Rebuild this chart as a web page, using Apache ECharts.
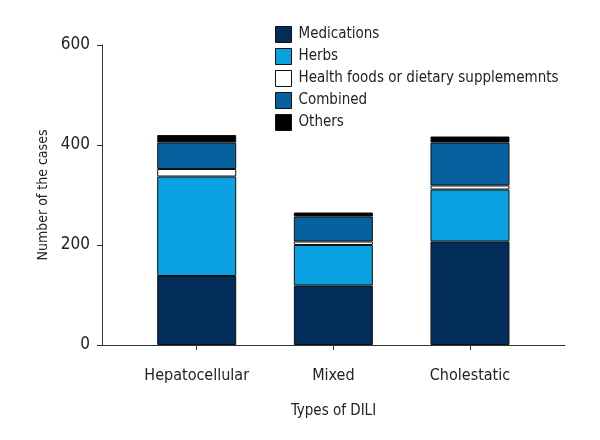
<!DOCTYPE html>
<html><head><meta charset="utf-8">
<script src="https://cdn.jsdelivr.net/npm/echarts@6/dist/echarts.min.js"></script>
<style>html,body{margin:0;padding:0;background:#fff}#c{width:600px;height:440px}</style>
</head><body><div id="c"></div>
<script>
const categories = ['Hepatocellular', 'Mixed', 'Cholestatic'];
const seriesNames = ['Medications', 'Herbs', 'Health foods or dietary supplememnts', 'Combined', 'Others'];
const medications = [138, 119, 207];
const herbs = [199, 81, 104];
const healthFoods = [15, 7, 8];
const combined = [53, 50, 86];
const others = [15, 8, 12];
const yTicks = [0, 200, 400, 600];

const colors = ['#022d5b', '#0aa1e2', '#ffffff', '#06619f', '#000000'];
const values = [medications, herbs, healthFoods, combined, others];
const FONT = '"Liberation Sans Narrow", "DejaVu Sans Condensed", sans-serif';
const TXT = '#222';

const chart = echarts.init(document.getElementById('c'), null, {renderer: 'canvas'});
chart.setOption({
  animation: false,
  backgroundColor: '#fff',
  textStyle: {fontFamily: FONT},
  legend: {
    orient: 'vertical', left: 270, top: 21,
    itemWidth: 16, itemHeight: 16, itemGap: 5,
    icon: 'rect',
    textStyle: {fontFamily: FONT, fontSize: 15, color: TXT, padding: [2, 0, 0, 2]},
    data: seriesNames.map((n) => ({name: n, itemStyle: {borderColor: '#111', borderWidth: 1}}))
  },
  grid: [
    {left: 102, right: 35, top: 45, bottom: 95},
    {left: 128.4, right: 61.7, top: 45, bottom: 95}
  ],
  xAxis: [
    {type: 'value', gridIndex: 0, min: 0, max: 1, axisLine: {show: true, lineStyle: {color: '#333', width: 1}},
     axisTick: {show: false}, axisLabel: {show: false}, splitLine: {show: false},
     name: 'Types of DILI', nameLocation: 'middle', nameGap: 59,
     nameTextStyle: {fontFamily: FONT, fontSize: 15, color: TXT}},
    {type: 'category', gridIndex: 1, data: categories,
     axisLine: {show: false},
     axisTick: {show: true, alignWithLabel: true, length: 5, lineStyle: {color: '#333'}},
     axisLabel: {fontFamily: FONT, fontSize: 16, color: TXT, margin: 23}}
  ],
  yAxis: [
    {type: 'value', gridIndex: 0, min: 0, max: 600, interval: 200,
     axisLine: {show: true, lineStyle: {color: '#333', width: 1}},
     axisTick: {show: true, length: 5, lineStyle: {color: '#333'}},
     axisLabel: {fontFamily: FONT, fontSize: 17, color: TXT, margin: 12,
       formatter: (v) => yTicks.includes(v) ? String(v) : ''},
     splitLine: {show: false},
     name: 'Number of the cases', nameLocation: 'middle', nameGap: 47, nameRotate: 90,
     nameTextStyle: {fontFamily: FONT, fontSize: 14, color: TXT}},
    {type: 'value', gridIndex: 1, min: 0, max: 600, interval: 200, show: false}
  ],
  series: seriesNames.map((n, i) => ({
    name: n, type: 'bar', stack: 'total', xAxisIndex: 1, yAxisIndex: 1,
    barWidth: 79, data: values[i],
    itemStyle: {color: colors[i], borderColor: '#111', borderWidth: 1}
  }))
});
</script></body></html>
